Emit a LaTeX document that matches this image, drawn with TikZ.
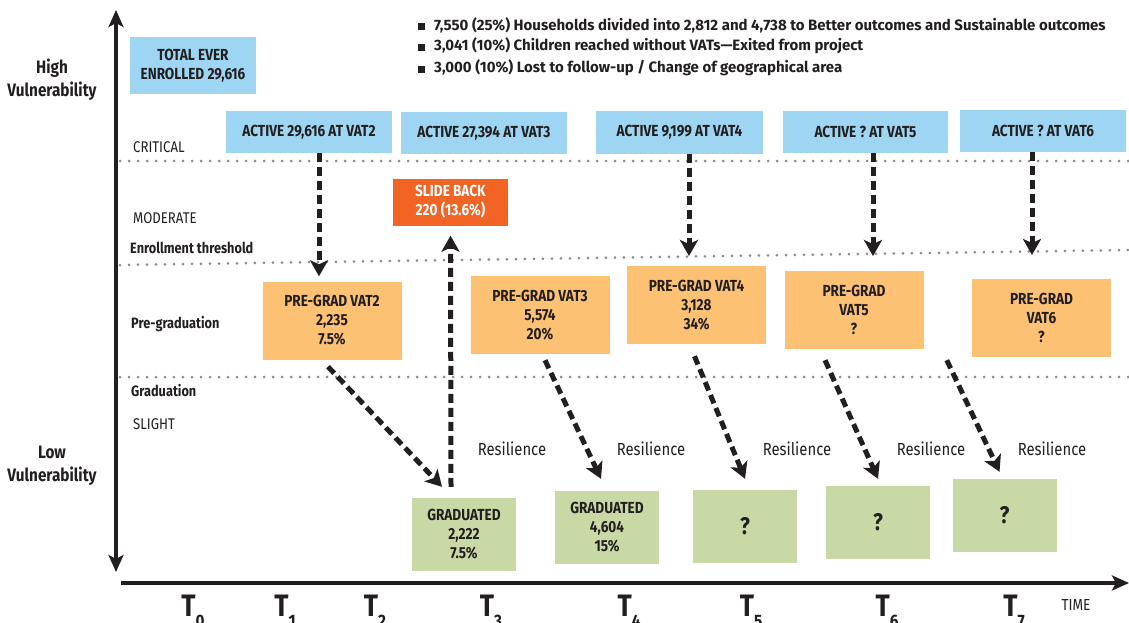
\documentclass[tikz,border=0pt]{standalone}
\usepackage{fontspec}
\setmainfont{Fira Sans}[FakeStretch=0.85]
\newfontfamily\legendfont{Fira Sans}
\usetikzlibrary{arrows.meta}

\definecolor{skyblue}{RGB}{157,213,242}
\definecolor{pgorange}{RGB}{253,193,116}
\definecolor{slidered}{RGB}{241,100,35}
\definecolor{gradgreen}{RGB}{201,217,166}
\definecolor{dotgray}{RGB}{140,140,140}
\definecolor{ink}{RGB}{35,31,32}

\tikzset{
  box/.style={inner sep=0pt, align=center, text=ink, font=\bfseries\fontsize{16}{19}\selectfont},
  activebox/.style={box, fill=skyblue, minimum height=42pt},
  pgbox/.style={box, fill=pgorange, minimum width=139pt, minimum height=78pt},
  gradbox/.style={box, fill=gradgreen, minimum width=104pt, minimum height=73pt},
  qbox/.style={gradbox, font=\bfseries\fontsize{24}{24}\selectfont},
  level/.style={anchor=west, text=ink, inner sep=0pt, font=\fontsize{15.5}{17}\selectfont},
  boldlevel/.style={level, font=\bfseries\fontsize{15}{17}\selectfont},
  resil/.style={text=ink, inner sep=0pt, font=\fontsize{17.5}{19}\selectfont},
  vlabel/.style={align=center, text=ink, inner sep=0pt, font=\bfseries\fontsize{18}{23}\selectfont},
  tlabel/.style={anchor=base, text=ink, inner sep=0pt, font=\bfseries\fontsize{31}{31}\selectfont},
  legend/.style={anchor=west, text=ink, inner sep=0pt, font=\legendfont\bfseries\fontsize{15}{18}\selectfont},
  dotline/.style={dotgray, line width=3pt, line cap=round, dash pattern=on 0pt off 9pt},
  flow/.style={ink, line width=5pt, dash pattern=on 9pt off 5pt, -{Stealth[length=16pt,width=18pt,inset=4pt]}},
  axis/.style={ink, line width=4pt}
}
\newcommand{\tmark}[1]{T\raisebox{-11pt}{\fontsize{18}{18}\selectfont #1}}

\begin{document}
\begin{tikzpicture}[x=1pt,y=-1pt]
\useasboundingbox (0,0) rectangle (1129,623);
% axes
\coordinate (vtop) at (116,10);
\coordinate (vbot) at (116,572);
\coordinate (hleft) at (121,583);
\coordinate (hright) at (1129,583);
\draw[axis,{Stealth[length=17pt,width=15pt,inset=4pt]}-{Stealth[length=17pt,width=15pt,inset=4pt]}] (vtop) -- (vbot);
\draw[axis,-{Stealth[length=17pt,width=15pt,inset=4pt]}] (hleft) -- (hright);
% thresholds
\draw[dotline] (120,161) -- (1129,161);
\draw[dotline] (120,265) -- (1129,250);
\draw[dotline] (120,377) -- (1129,377);
% left labels
\node[vlabel] (high) at (52,80) {High\\Vulnerability};
\node[vlabel] (low) at (52,466) {Low\\Vulnerability};
\node[level] (critical) at (133,147) {CRITICAL};
\node[level] (moderate) at (133,218) {MODERATE};
\node[boldlevel] (enrol) at (130,248) {Enrollment threshold};
\node[boldlevel] (pregradlbl) at (131,324) {Pre-graduation};
\node[boldlevel] (gradlbl) at (131,391) {Graduation};
\node[level] (slight) at (133,424) {SLIGHT};
% legend
\node[legend] (leg1) at (418,25) {\rule{7pt}{7pt}\hspace{9pt}7,550 (25\%) Households divided into 2,812 and 4,738 to Better outcomes and Sustainable outcomes};
\node[legend] (leg2) at (418,46) {\rule{7pt}{7pt}\hspace{9pt}3,041 (10\%) Children reached without VATs\textemdash Exited from project};
\node[legend] (leg3) at (418,68) {\rule{7pt}{7pt}\hspace{9pt}3,000 (10\%) Lost to follow-up / Change of geographical area};
% active boxes
\node[box, fill=skyblue, minimum width=126pt, minimum height=57pt] (tot) at (193,65.5) {TOTAL EVER\\ENROLLED 29,616};
\node[activebox, minimum width=166pt] (act2) at (309,132) {ACTIVE 29,616 AT VAT2};
\node[activebox, minimum width=166pt] (act3) at (484,133) {ACTIVE 27,394 AT VAT3};
\node[activebox, minimum width=167pt] (act4) at (679.5,132.5) {ACTIVE 9,199 AT VAT4};
\node[activebox, minimum width=165pt] (act5) at (865.5,132) {ACTIVE ? AT VAT5};
\node[activebox, minimum width=166pt] (act6) at (1043,131) {ACTIVE ? AT VAT6};
\node[box, fill=slidered, text=white, minimum width=115pt, minimum height=47pt] (slide) at (450.5,202) {SLIDE BACK\\220 (13.6\%)};
% pre-graduation boxes
\node[pgbox] (pg2) at (332,320.5) {PRE-GRAD VAT2\\2,235\\7.5\%};
\node[pgbox] (pg3) at (540,315) {PRE-GRAD VAT3\\5,574\\20\%};
\node[pgbox] (pg4) at (696.5,305) {PRE-GRAD VAT4\\3,128\\34\%};
\node[pgbox] (pg5) at (854,310) {PRE-GRAD\\VAT5\\?};
\node[pgbox] (pg6) at (1041.5,318) {PRE-GRAD\\VAT6\\?};
% graduated boxes
\node[gradbox] (gr3) at (464,534.5) {GRADUATED\\2,222\\7.5\%};
\node[gradbox] (gr4) at (607,527.5) {GRADUATED\\4,604\\15\%};
\node[qbox] (gr5) at (745,526.5) {?};
\node[qbox] (gr6) at (878,522.5) {?};
\node[qbox] (gr7) at (1004.5,515.5) {?};
% flows
\coordinate (tip4) at (689,256);
\coordinate (tip5) at (873,256);
\coordinate (tip6) at (1032,255);
\draw[flow] ([xshift=10pt]act2.south) -- ([xshift=-13pt,yshift=5pt]pg2.north);
\draw[flow] (act4.south -| tip4) -- (tip4);
\draw[flow] (act5.south -| tip5) -- (tip5);
\draw[flow] (act6.south -| tip6) -- (tip6);
\draw[flow] ([xshift=-13pt,yshift=11pt]gr3.north) -- ([yshift=-10pt]slide.south);
\draw[flow] ([xshift=-4pt,yshift=-7pt]pg2.south) -- ([xshift=-22pt,yshift=11pt]gr3.north);
\draw[flow] ([xshift=5pt,yshift=-6pt]pg3.south) -- ([xshift=-6pt,yshift=12pt]gr4.north);
\draw[flow] ([xshift=-2pt,yshift=-12pt]pg4.south) -- ([yshift=11pt]gr5.north);
\draw[flow] ([xshift=-29pt,yshift=-11pt]pg5.south) -- ([yshift=7pt]gr6.north);
\draw[flow] ([xshift=-25pt,yshift=-3pt]pg6.south west) -- ([xshift=-5pt,yshift=7pt]gr7.north);
% resilience
\node[resil] (res3) at (512,449) {Resilience};
\node[resil] (res4) at (651,449) {Resilience};
\node[resil] (res5) at (797,449) {Resilience};
\node[resil] (res6) at (931,449) {Resilience};
\node[resil] (res7) at (1052,449) {Resilience};
% time marks
\node[tlabel] (t0) at (193,616) {\tmark{0}};
\node[tlabel] (t1) at (285,616) {\tmark{1}};
\node[tlabel] (t2) at (375,616) {\tmark{2}};
\node[tlabel] (t3) at (491,616) {\tmark{3}};
\node[tlabel] (t4) at (629,616) {\tmark{4}};
\node[tlabel] (t5) at (751,616) {\tmark{5}};
\node[tlabel] (t6) at (887,616) {\tmark{6}};
\node[tlabel] (t7) at (1014,616) {\tmark{7}};
\node[resil, font=\fontsize{16}{18}\selectfont] (time) at (1076,605) {TIME};
\end{tikzpicture}
\end{document}
